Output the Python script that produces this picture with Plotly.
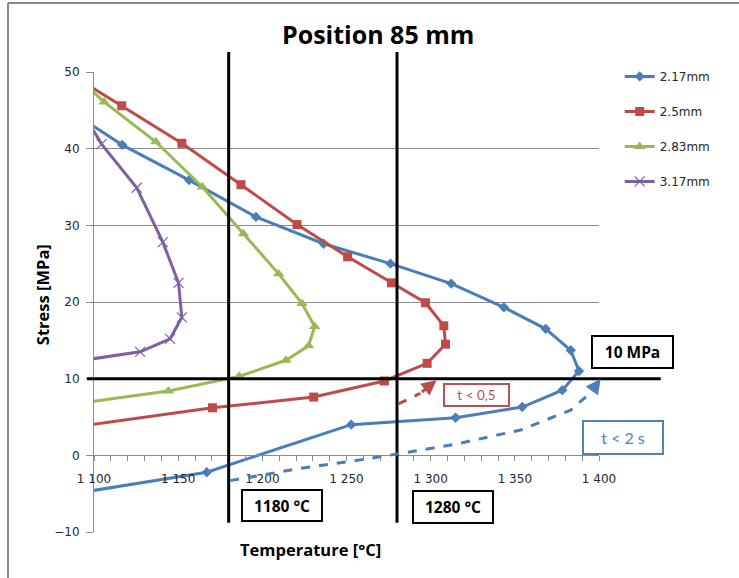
import plotly.graph_objects as go

# ---- data: temperature [°C] vs stress [MPa] at position 85 mm ----
t_217 = [1095, 1116.7, 1156.5, 1196.2, 1236.4, 1276.1, 1312.2, 1343.5, 1368.3, 1383.2,
         1388.1, 1378.2, 1354.4, 1314.8, 1252.8, 1167.0, 1095]
s_217 = [43.6, 40.5, 35.9, 31.1, 27.6, 25.0, 22.4, 19.3, 16.5, 13.7,
         11.0, 8.5, 6.3, 4.9, 4.0, -2.2, -4.75]

t_250 = [1095, 1116.5, 1152.2, 1187.3, 1220.6, 1250.7, 1276.7, 1296.9, 1307.8, 1308.8,
         1297.9, 1272.5, 1230.5, 1170.4, 1095]
s_250 = [48.5, 45.6, 40.7, 35.3, 30.1, 25.9, 22.5, 19.9, 16.9, 14.5,
         12.0, 9.7, 7.6, 6.2, 3.9]

t_283 = [1095, 1106.0, 1136.7, 1164.4, 1188.8, 1209.6, 1223.6, 1231.1, 1227.5, 1214.0,
         1186.3, 1144.2, 1095]
s_283 = [48.3, 46.1, 40.9, 35.0, 28.9, 23.7, 19.8, 16.8, 14.3, 12.4,
         10.3, 8.4, 6.9]

t_317 = [1095, 1104.5, 1125.4, 1140.9, 1150.2, 1152.2, 1145.2, 1127.4, 1095]
s_317 = [44.1, 40.6, 34.9, 27.8, 22.5, 18.0, 15.2, 13.5, 12.45]

series_names = ["2.17mm", "2.5mm", "2.83mm", "3.17mm"]

# reference levels
temp_limits = [1180, 1280]
stress_limit = 10

# time-limit guide curves (dashed arrows)
t_guide_2s = [1180.9, 1222.6, 1264.2, 1313.6, 1353.4, 1383.2, 1395.1, 1401.0]
s_guide_2s = [-3.3, -1.7, -0.4, 1.4, 3.3, 5.9, 8.2, 10.0]
t_guide_05 = [1280.8, 1293.9, 1303.5]
s_guide_05 = [6.7, 8.1, 9.8]

x_ticks = [1100, 1150, 1200, 1250, 1300, 1350, 1400]
x_tick_text = ["1 100", "1 150", "1 200", "1 250", "1 300", "1 350", "1 400"]
y_ticks = [-10, 0, 10, 20, 30, 40, 50]

X_MIN, X_MAX = 1100, 1400
Y_MIN, Y_MAX = -10, 50
PLOT_W, PLOT_H = 505, 460

BLUE = "#4A7EBB"
RED = "#BE4B48"
GREEN = "#98B954"
PURPLE = "#7D60A0"
GRID = "#8C8C8C"
TICKFONT = dict(family="DejaVu Sans", size=12, color="#262626")
TITLE_FONT = "Open Sans"


def xp(t):
    """Temperature -> paper x fraction."""
    return (t - X_MIN) / (X_MAX - X_MIN)


def yp(s):
    """Stress -> paper y fraction."""
    return (s - Y_MIN) / (Y_MAX - Y_MIN)


fig = go.Figure()

styles = [
    (t_217, s_217, BLUE, dict(symbol="diamond", size=8)),
    (t_250, s_250, RED, dict(symbol="square", size=9)),
    (t_283, s_283, GREEN, dict(symbol="triangle-up", size=10)),
    (t_317, s_317, PURPLE, dict(symbol="x-thin", size=10, line=dict(width=1.2, color=PURPLE))),
]
for i, ((tx, sy, col, mk), name) in enumerate(zip(styles, series_names)):
    fig.add_trace(go.Scatter(
        x=tx, y=sy, mode="lines+markers", name=name,
        line=dict(color=col, width=3),
        marker=dict(color=col, **mk),
        legendgroup=f"g{i}",
    ))

shapes = []
# vertical temperature limits
for t in temp_limits:
    shapes.append(dict(type="line", xref="paper", yref="paper",
                       x0=xp(t), x1=xp(t), y0=yp(-8.8), y1=yp(52.6),
                       line=dict(color="black", width=3)))
# horizontal stress limit
shapes.append(dict(type="line", xref="paper", yref="paper",
                   x0=xp(1095.8), x1=xp(1436.7), y0=yp(stress_limit), y1=yp(stress_limit),
                   line=dict(color="black", width=3)))


def guide_path(ts, ss):
    pts = [f"{xp(t):.5f},{yp(s):.5f}" for t, s in zip(ts, ss)]
    return "M " + " L ".join(pts)


shapes.append(dict(type="path", xref="paper", yref="paper",
                   path=guide_path(t_guide_2s[:-1], s_guide_2s[:-1]),
                   line=dict(color=BLUE, width=3, dash="dash")))
shapes.append(dict(type="path", xref="paper", yref="paper",
                   path=guide_path(t_guide_05[:-1], s_guide_05[:-1]),
                   line=dict(color=RED, width=3, dash="dash")))

# outer chart frame (top and left edges)
fx0 = -86 / PLOT_W
fy1 = 529 / PLOT_H
shapes.append(dict(type="line", xref="paper", yref="paper", x0=fx0, x1=645 / PLOT_W,
                   y0=fy1, y1=fy1, line=dict(color="#8A8A8A", width=2)))
shapes.append(dict(type="line", xref="paper", yref="paper", x0=fx0, x1=fx0,
                   y0=fy1, y1=-46 / PLOT_H, line=dict(color="#8A8A8A", width=2)))

annotations = []
# arrowheads of the guide curves
for ts, ss, col in [(t_guide_2s, s_guide_2s, BLUE), (t_guide_05, s_guide_05, RED)]:
    annotations.append(dict(
        xref="paper", yref="paper", x=xp(ts[-1]), y=yp(ss[-1]),
        ax=(xp(ts[-2]) - xp(ts[-1])) * PLOT_W,
        ay=-(yp(ss[-2]) - yp(ss[-1])) * PLOT_H,
        text="", showarrow=True, arrowhead=2, arrowsize=1.0, arrowwidth=3,
        arrowcolor=col, standoff=0,
    ))


def box(text, x, y, w, h, color, bold=True, size=13):
    t = f"<b>{text}</b>" if bold else text
    return dict(xref="paper", yref="paper", x=x, y=y, xanchor="center", yanchor="middle",
                text=t, showarrow=False, width=w, height=h, borderwidth=2, borderpad=0,
                bordercolor=color, bgcolor="white",
                font=dict(family=TITLE_FONT if bold else "Lato", size=size,
                          color=color if not bold else "black"))


annotations.append(box("1180 °C", 0.3723, 0.0572, 78, 29, "black", size=15.5))
annotations.append(box("1280 °C", 0.7109, 0.0539, 78, 30, "black", size=15.5))
annotations.append(box("10 MPa", 1.0663, 0.3913, 79, 30, "black", size=15.5))
annotations.append(box("t &lt; 0,5", 0.7578, 0.2971, 63, 20, "#C0504D", bold=False, size=13.5))
annotations.append(box("t &lt; 2 s", 1.0473, 0.2048, 78, 31, "#4F81BD", bold=False, size=16))

# titles
annotations.append(dict(xref="paper", yref="paper", x=0.5624, y=1.0826,
                        text="<b>Position 85 mm</b>", showarrow=False,
                        xanchor="center", yanchor="middle",
                        font=dict(family=TITLE_FONT, size=25, color="black")))
annotations.append(dict(xref="paper", yref="paper", x=-0.103, y=0.517,
                        text="<b>Stress [MPa]</b>", showarrow=False, textangle=-90,
                        xanchor="center", yanchor="middle",
                        font=dict(family=TITLE_FONT, size=16.5, color="black")))
annotations.append(dict(xref="paper", yref="paper", x=0.4297, y=-0.0391,
                        text="<b>Temperature [°C]</b>", showarrow=False,
                        xanchor="center", yanchor="middle",
                        font=dict(family=TITLE_FONT, size=16.5, color="black")))

fig.update_layout(
    width=739, height=578,
    margin=dict(l=94, r=140, t=72, b=46),
    paper_bgcolor="white", plot_bgcolor="white",
    showlegend=True,
    legend=dict(x=1.041, y=1.022, xanchor="left", yanchor="top",
                font=dict(family="DejaVu Sans", size=12, color="#262626"),
                tracegroupgap=16, traceorder="grouped", itemwidth=30,
                bgcolor="rgba(0,0,0,0)"),
    shapes=shapes,
    annotations=annotations,
    xaxis=dict(range=[X_MIN, X_MAX], anchor="free", position=yp(0),
               tickvals=x_ticks, ticktext=x_tick_text, tickfont=TICKFONT,
               showgrid=False, zeroline=False, showline=True, linecolor=GRID, linewidth=1,
               ticks="outside", ticklen=5, tickcolor=GRID, ticklabelstandoff=7,
               minor=dict(dtick=10, ticks="outside", ticklen=5, tickcolor=GRID)),
    yaxis=dict(range=[Y_MIN, Y_MAX], tickvals=y_ticks, tickfont=TICKFONT,
               showgrid=True, gridcolor=GRID, gridwidth=1, zeroline=False,
               showline=True, linecolor=GRID, linewidth=1,
               ticks="outside", ticklen=7, tickcolor=GRID, ticklabelstandoff=4),
)

fig.write_html("out.html")
